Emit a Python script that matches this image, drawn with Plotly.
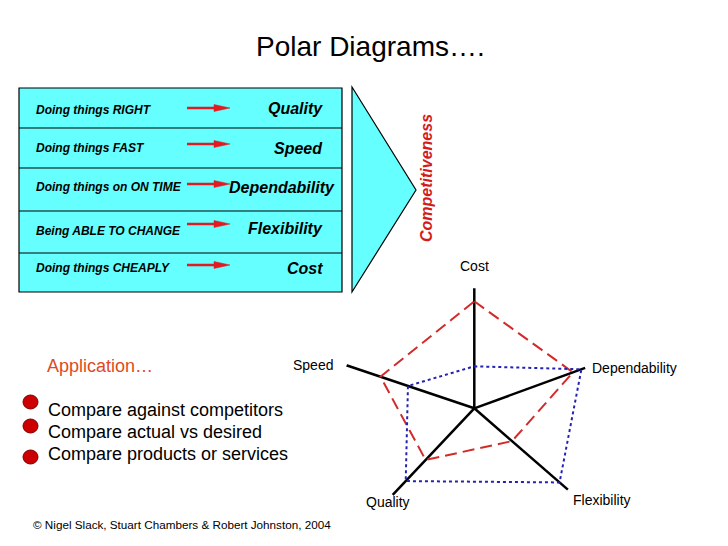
import plotly.graph_objects as go

W, H = 728, 546

# ---------------- data ----------------
drivers = ["Doing things RIGHT", "Doing things FAST", "Doing things on ON TIME",
           "Being ABLE TO CHANGE", "Doing things CHEAPLY"]
objectives = ["Quality", "Speed", "Dependability", "Flexibility", "Cost"]

radar_axes = ["Cost", "Dependability", "Flexibility", "Quality", "Speed"]
axis_angles = [90, 20, -41, 226.7, 161.4]          # degrees
axis_lengths = [120, 118, 124, 119, 135]
red_values = [107, 105, 50, 71, 99]                 # dashed profile
blue_values = [42, 114, 113, 100, 70]               # dotted profile

applications = ["Compare against competitors", "Compare actual vs desired",
                "Compare products or services"]

FONT = "Arial, Liberation Sans, sans-serif"


def px(x):
    return x / W


def py(y):
    return 1 - y / H


fig = go.Figure()

# ---------------- radar ----------------
for name, ang, L in zip(radar_axes, axis_angles, axis_lengths):
    fig.add_trace(go.Scatterpolar(r=[0, L], theta=[ang, ang], mode="lines",
                                  line=dict(color="black", width=2.5),
                                  hoverinfo="skip", showlegend=False))

fig.add_trace(go.Scatterpolar(r=red_values + red_values[:1],
                              theta=axis_angles + axis_angles[:1], mode="lines",
                              line=dict(color="#D22B2B", width=2, dash="12px,6px"),
                              showlegend=False))
fig.add_trace(go.Scatterpolar(r=blue_values + blue_values[:1],
                              theta=axis_angles + axis_angles[:1], mode="lines",
                              line=dict(color="#2323B0", width=2, dash="dot"),
                              showlegend=False))

cx, cy, R = 474.3, 408.3, 135
fig.update_layout(
    polar=dict(
        domain=dict(x=[px(cx - R), px(cx + R)], y=[py(cy + R), py(cy - R)]),
        bgcolor="rgba(0,0,0,0)",
        radialaxis=dict(range=[0, R], visible=False, showgrid=False),
        angularaxis=dict(visible=False, showgrid=False, direction="counterclockwise",
                         rotation=0, thetaunit="degrees"),
    )
)

annotations = []
shapes = []

# radar labels
label_pos = {"Cost": (474, 266), "Dependability": (634, 368), "Flexibility": (602, 500),
             "Quality": (388, 502), "Speed": (313, 365)}
for name in radar_axes:
    x, y = label_pos[name]
    annotations.append(dict(x=px(x), y=py(y), xref="paper", yref="paper", text=name,
                            showarrow=False, xanchor="center", yanchor="middle",
                            font=dict(family=FONT, size=14, color="black")))

# ---------------- title ----------------
annotations.append(dict(x=px(370), y=py(46), xref="paper", yref="paper",
                        text="Polar Diagrams….", showarrow=False,
                        xanchor="center", yanchor="middle",
                        font=dict(family=FONT, size=28, color="black")))

# ---------------- table ----------------
shapes.append(dict(type="rect", xref="paper", yref="paper",
                   x0=px(19), x1=px(342), y0=py(88), y1=py(292),
                   fillcolor="#66FFFF", line=dict(color="black", width=1.2), layer="below"))
for yy in [128, 168, 211, 253]:
    shapes.append(dict(type="line", xref="paper", yref="paper",
                       x0=px(19), x1=px(342), y0=py(yy), y1=py(yy),
                       line=dict(color="black", width=1.2)))

left_y = [110, 148, 187, 231, 268]
right_y = [109, 149, 187, 228, 268]
arrow_y = [108, 144, 184, 224, 265]
right_x = [325, 325, 337, 325, 325]
for d, o, ly, ry, ay, rx in zip(drivers, objectives, left_y, right_y, arrow_y, right_x):
    annotations.append(dict(x=px(34), y=py(ly), xref="paper", yref="paper",
                            text="<b><i>%s</i></b>" % d, showarrow=False,
                            xanchor="left", yanchor="middle",
                            font=dict(family=FONT, size=12, color="black")))
    annotations.append(dict(x=px(rx), y=py(ry), xref="paper", yref="paper",
                            text="<b><i>%s</i></b>" % o, showarrow=False,
                            xanchor="right", yanchor="middle",
                            font=dict(family=FONT, size=16, color="black")))
    shapes.append(dict(type="line", xref="paper", yref="paper",
                       x0=px(187), x1=px(216), y0=py(ay), y1=py(ay),
                       line=dict(color="#E21A22", width=2.5)))
    shapes.append(dict(type="path", xref="paper", yref="paper",
                       path="M %f %f L %f %f L %f %f Z" % (px(214), py(ay - 3.5), px(230), py(ay),
                                                           px(214), py(ay + 3.5)),
                       fillcolor="#E21A22", line=dict(color="#E21A22", width=0.5)))

# chevron
shapes.append(dict(type="path", xref="paper", yref="paper",
                   path="M %f %f L %f %f L %f %f Z" % (px(352), py(87), px(416), py(190),
                                                       px(352), py(292)),
                   fillcolor="#66FFFF", line=dict(color="black", width=1.2), layer="below"))
annotations.append(dict(x=px(427), y=py(178), xref="paper", yref="paper",
                        text="<b><i>Competitiveness</i></b>", showarrow=False, textangle=-90,
                        xanchor="center", yanchor="middle",
                        font=dict(family=FONT, size=16, color="#D41A1A")))

# ---------------- application ----------------
annotations.append(dict(x=px(45), y=py(366), xref="paper", yref="paper",
                        text="Application…", showarrow=False, xanchor="left", yanchor="middle",
                        font=dict(family=FONT, size=18, color="#E04A1E")))
bullet_y = [402, 426, 457]
text_y = [410, 432, 454]
for t, by, ty in zip(applications, bullet_y, text_y):
    shapes.append(dict(type="circle", xref="paper", yref="paper",
                       x0=px(23), x1=px(38), y0=py(by + 7), y1=py(by - 7),
                       fillcolor="#CC0000", line=dict(color="#7A0000", width=1)))
    annotations.append(dict(x=px(46), y=py(ty), xref="paper", yref="paper",
                            text=t, showarrow=False, xanchor="left", yanchor="middle",
                            font=dict(family=FONT, size=18, color="black")))

# ---------------- copyright ----------------
annotations.append(dict(x=px(31), y=py(524), xref="paper", yref="paper",
                        text="© Nigel Slack, Stuart Chambers & Robert Johnston, 2004",
                        showarrow=False, xanchor="left", yanchor="middle",
                        font=dict(family=FONT, size=11.7, color="black")))

fig.update_layout(width=W, height=H, margin=dict(l=0, r=0, t=0, b=0),
                  paper_bgcolor="white", plot_bgcolor="white", showlegend=False,
                  annotations=annotations, shapes=shapes)

fig.write_html("out.html", config={"displayModeBar": False},
               post_script="document.body.style.margin='0';document.body.style.overflow='hidden';")
